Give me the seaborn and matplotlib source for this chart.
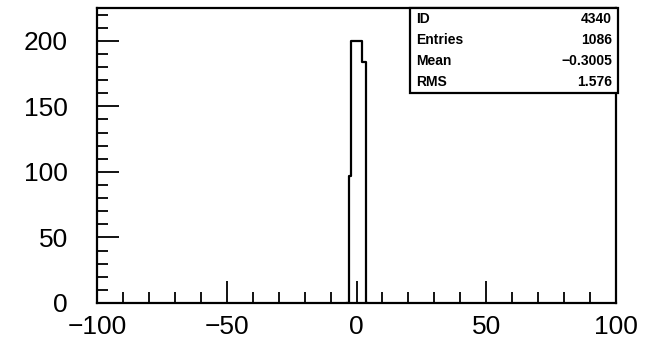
import numpy as np
import pandas as pd
import matplotlib
matplotlib.use('Agg')
import matplotlib.pyplot as plt
from matplotlib.ticker import MultipleLocator
from matplotlib.patches import Rectangle
import seaborn as sns

# Histogram contents (ID 4340)
bin_edges = [-4, -3, -2, 2, 3.5, 4.5]
bin_counts = [0, 97, 200, 184, 0]

stat_names = ['ID', 'Entries', 'Mean', 'RMS']
stat_values = ['4340', '1086', '\u22120.3005', '1.576']

x_range = (-100, 100)
y_range = (0, 225)

def main():
    sns.set_style('ticks')
    plt.rcParams['font.family'] = ['Liberation Sans', 'DejaVu Sans']
    plt.rcParams['text.color'] = 'black'
    plt.rcParams['xtick.color'] = 'black'
    plt.rcParams['ytick.color'] = 'black'

    fig = plt.figure(figsize=(6.54, 3.47), dpi=100)
    ax = fig.add_axes([97 / 654, 1 - 303 / 347, (616 - 97) / 654, (303 - 8) / 347])

    edges = np.array(bin_edges, dtype=float)
    centers = (edges[:-1] + edges[1:]) / 2
    df = pd.DataFrame({'x': centers, 'w': bin_counts})
    sns.histplot(data=df, x='x', weights='w', bins=list(bin_edges), element='step',
                 fill=False, color='black', linewidth=1.6, ax=ax)

    ax.set_xlim(*x_range)
    ax.set_ylim(*y_range)
    ax.set_xlabel('')
    ax.set_ylabel('')

    ax.xaxis.set_major_locator(MultipleLocator(50))
    ax.xaxis.set_minor_locator(MultipleLocator(10))
    ax.yaxis.set_major_locator(MultipleLocator(50))
    ax.yaxis.set_minor_locator(MultipleLocator(10))
    ax.tick_params(which='both', direction='in', top=False, right=False,
                   width=1.3, color='black', labelcolor='black')
    ax.tick_params(which='major', length=16)
    ax.tick_params(which='minor', length=8)
    ax.tick_params(axis='x', which='major', labelsize=19, pad=9)
    ax.tick_params(axis='y', which='major', labelsize=19, pad=21)

    for s in ax.spines.values():
        s.set_visible(True)
        s.set_linewidth(1.6)
        s.set_color('black')

    # statistics box, top right like ROOT
    bx0, by0, bx1, by1 = 410 / 654, 1 - 93 / 347, 618 / 654, 1 - 8 / 347
    fig.patches.append(Rectangle((bx0, by0), bx1 - bx0, by1 - by0,
                                 transform=fig.transFigure, fill=True,
                                 facecolor='white', edgecolor='black',
                                 linewidth=1.6, zorder=5))
    row_h = (by1 - by0) / len(stat_names)
    for i, (name, val) in enumerate(zip(stat_names, stat_values)):
        yy = by1 - (i + 0.5) * row_h
        fig.text(bx0 + 6 / 654, yy, name, ha='left', va='center',
                 fontsize=10, fontweight='bold', color='black', zorder=6)
        fig.text(bx1 - 6 / 654, yy, val, ha='right', va='center',
                 fontsize=10, fontweight='bold', color='black', zorder=6)

    fig.savefig('out.png', dpi=100)
    plt.close(fig)

if __name__ == "__main__":
    main()
